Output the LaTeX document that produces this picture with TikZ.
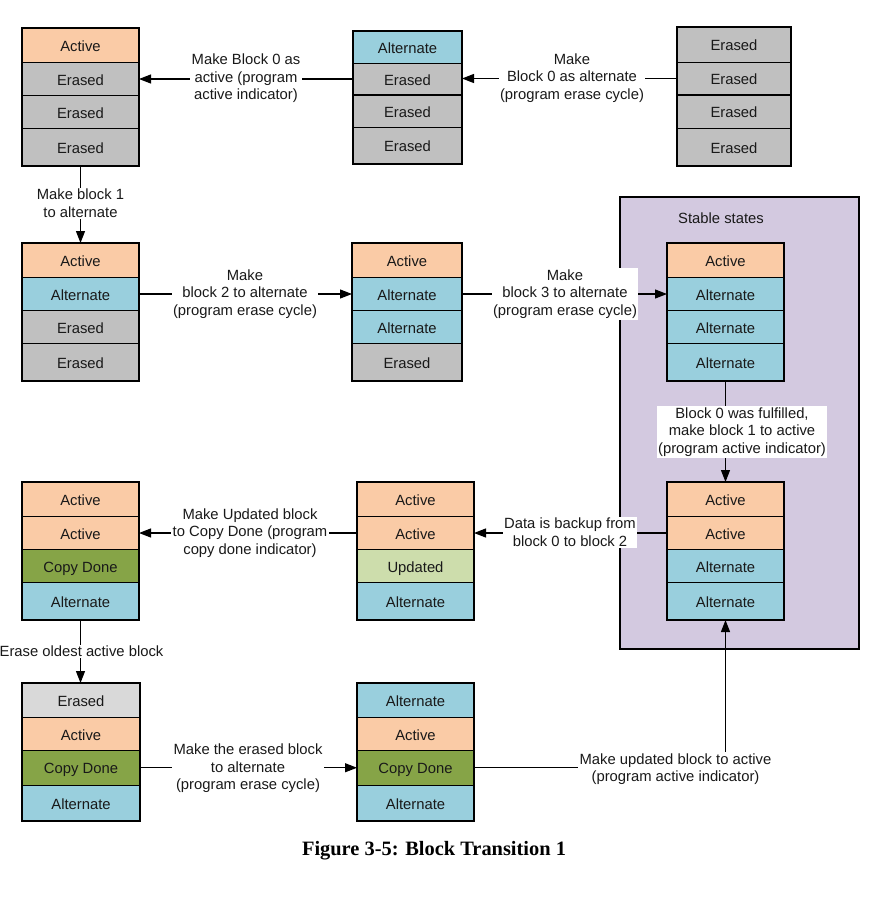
\documentclass[tikz,border=0pt]{standalone}
\usepackage{fontspec}
\setmainfont{Liberation Sans}
\newfontfamily\capfont{Liberation Serif}
\usetikzlibrary{arrows.meta}
\definecolor{cActive}{RGB}{250,203,166}
\definecolor{cAlt}{RGB}{153,207,221}
\definecolor{cErased}{RGB}{192,192,192}
\definecolor{cErasedL}{RGB}{217,217,217}
\definecolor{cCopy}{RGB}{134,164,71}
\definecolor{cUpd}{RGB}{205,221,172}
\definecolor{cStable}{RGB}{211,201,224}
\tikzset{
  txt/.style={font=\fontsize{14.8}{17.6}\selectfont, text=black!90},
  cellbox/.style={txt, draw=black, line width=0.9pt, inner sep=0pt, outer sep=0pt, text height=12pt, text depth=0pt},
  pairline/.style={draw=black, line width=1.6pt},
  conn/.style={draw=black, line width=1.1pt, -{Triangle[length=12pt,width=9pt]}},
  lab/.style={txt, fill=white, align=center, inner sep=1.5pt},
  stablebox/.style={draw=black, line width=1.5pt, fill=cStable, inner sep=0pt},
  captionstyle/.style={font=\capfont\bfseries\fontsize{20.4}{24}\selectfont}
}
\newcommand\mycell[7]{\node[cellbox,fill=#6,minimum width={#3-#2},minimum height={#5-#4}] (#1) at ({(#2+#3)/2},{(#4+#5)/2}) {#7};}
\newcommand\mypairs[1]{\draw[pairline] (#11.north west) rectangle (#12.south east);
  \draw[pairline] (#13.north west) rectangle (#14.south east);}
\begin{document}
\begin{tikzpicture}[x=1pt,y=-1pt]
\useasboundingbox (0,0) rectangle (888,898);
\fill[white] (0,0) rectangle (888,898);
% stable states box
\node[stablebox, minimum width=239, minimum height=452] (stable) at (739.5,423) {};
\node[txt] (st) at (721,218) {Stable states};
% stack A
\mycell{a1}{22}{139}{28}{62.5}{cActive}{Active}
\mycell{a2}{22}{139}{62.5}{95.5}{cErased}{Erased}
\mycell{a3}{22}{139}{95.5}{128.5}{cErased}{Erased}
\mycell{a4}{22}{139}{128.5}{166}{cErased}{Erased}
\mypairs{a}
% stack B
\mycell{b1}{353}{462}{31}{63}{cAlt}{Alternate}
\mycell{b2}{353}{462}{63}{95}{cErased}{Erased}
\mycell{b3}{353}{462}{95}{127}{cErased}{Erased}
\mycell{b4}{353}{462}{127}{164}{cErased}{Erased}
\mypairs{b}
% stack C
\mycell{c1}{677}{791}{27}{62}{cErased}{Erased}
\mycell{c2}{677}{791}{62}{95}{cErased}{Erased}
\mycell{c3}{677}{791}{95}{128}{cErased}{Erased}
\mycell{c4}{677}{791}{128}{166}{cErased}{Erased}
\mypairs{c}
% stack D
\mycell{d1}{22}{139}{243}{277.5}{cActive}{Active}
\mycell{d2}{22}{139}{277.5}{310.5}{cAlt}{Alternate}
\mycell{d3}{22}{139}{310.5}{343.5}{cErased}{Erased}
\mycell{d4}{22}{139}{343.5}{381}{cErased}{Erased}
\mypairs{d}
% stack E
\mycell{e1}{352}{462}{243}{277.5}{cActive}{Active}
\mycell{e2}{352}{462}{277.5}{310.5}{cAlt}{Alternate}
\mycell{e3}{352}{462}{310.5}{343.5}{cAlt}{Alternate}
\mycell{e4}{352}{462}{343.5}{381}{cErased}{Erased}
\mypairs{e}
% stack F
\mycell{f1}{667}{784}{243}{277.5}{cActive}{Active}
\mycell{f2}{667}{784}{277.5}{310.5}{cAlt}{Alternate}
\mycell{f3}{667}{784}{310.5}{343.5}{cAlt}{Alternate}
\mycell{f4}{667}{784}{343.5}{381}{cAlt}{Alternate}
\mypairs{f}
% stack G
\mycell{g1}{667}{784}{482}{516.5}{cActive}{Active}
\mycell{g2}{667}{784}{516.5}{549.5}{cActive}{Active}
\mycell{g3}{667}{784}{549.5}{582.5}{cAlt}{Alternate}
\mycell{g4}{667}{784}{582.5}{620}{cAlt}{Alternate}
\mypairs{g}
% stack H
\mycell{h1}{357}{474}{482}{516.5}{cActive}{Active}
\mycell{h2}{357}{474}{516.5}{549.5}{cActive}{Active}
\mycell{h3}{357}{474}{549.5}{582.5}{cUpd}{Updated}
\mycell{h4}{357}{474}{582.5}{620}{cAlt}{Alternate}
\mypairs{h}
% stack I
\mycell{i1}{22}{139}{482}{516.5}{cActive}{Active}
\mycell{i2}{22}{139}{516.5}{549.5}{cActive}{Active}
\mycell{i3}{22}{139}{549.5}{582.5}{cCopy}{Copy Done}
\mycell{i4}{22}{139}{582.5}{620}{cAlt}{Alternate}
\mypairs{i}
% stack J
\mycell{j1}{22}{140}{683}{717.5}{cErasedL}{Erased}
\mycell{j2}{22}{140}{717.5}{750.5}{cActive}{Active}
\mycell{j3}{22}{140}{750.5}{785}{cCopy}{Copy Done}
\mycell{j4}{22}{140}{785}{821}{cAlt}{Alternate}
\mypairs{j}
% stack K
\mycell{k1}{357}{474}{683}{717.5}{cAlt}{Alternate}
\mycell{k2}{357}{474}{717.5}{750.5}{cActive}{Active}
\mycell{k3}{357}{474}{750.5}{785}{cCopy}{Copy Done}
\mycell{k4}{357}{474}{785}{821}{cAlt}{Alternate}
\mypairs{k}
% connectors
\draw[conn] (b2.west) -- (a2.east);
\draw[conn] (c2.west) -- (c2.west -| b2.east);
\draw[conn] (a4.south) -- (d1.north);
\draw[conn] (d2.east) -- (e2.west);
\draw[conn] (e2.east) -- (f2.west);
\draw[conn] (f4.south) -- (g1.north);
\draw[conn] (g2.west) -- (h2.east);
\draw[conn] (h2.west) -- (i2.east);
\draw[conn] (i4.south) -- (i4.south |- j1.north);
\draw[conn] (j3.east) -- (k3.west);
\draw[conn] (k3.east) -| (g4.south);
% labels
\node[lab] (l1) at (246,78.5) {Make Block 0 as\\active (program\\active indicator)};
\node[lab] (l2) at (572,78) {Make\\Block 0 as alternate\\(program erase cycle)};
\node[lab] (l3) at (80.5,203.5) {Make block 1\\to alternate};
\node[lab] (l4) at (245,294) {Make\\block 2 to alternate\\(program erase cycle)};
\node[lab] (l5) at (565,294) {Make\\block 3 to alternate\\(program erase cycle)};
\node[lab] (l6) at (742,432) {Block 0 was fulfilled,\\make block 1 to active\\(program active indicator)};
\node[lab] (l7) at (570,532.5) {Data is backup from\\block 0 to block 2};
\node[lab] (l8) at (250,533) {Make Updated block\\to Copy Done (program\\copy done indicator)};
\node[lab] (l9) at (81.5,651.5) {Erase oldest active block};
\node[lab] (l10) at (248,768.5) {Make the erased block\\to alternate\\(program erase cycle)};
\node[lab] (l11) at (675.5,769) {Make updated block to active\\(program active indicator)};
\node[captionstyle] (cap) at (434,851) {Figure 3-5: Block Transition 1};
\end{tikzpicture}
\end{document}
